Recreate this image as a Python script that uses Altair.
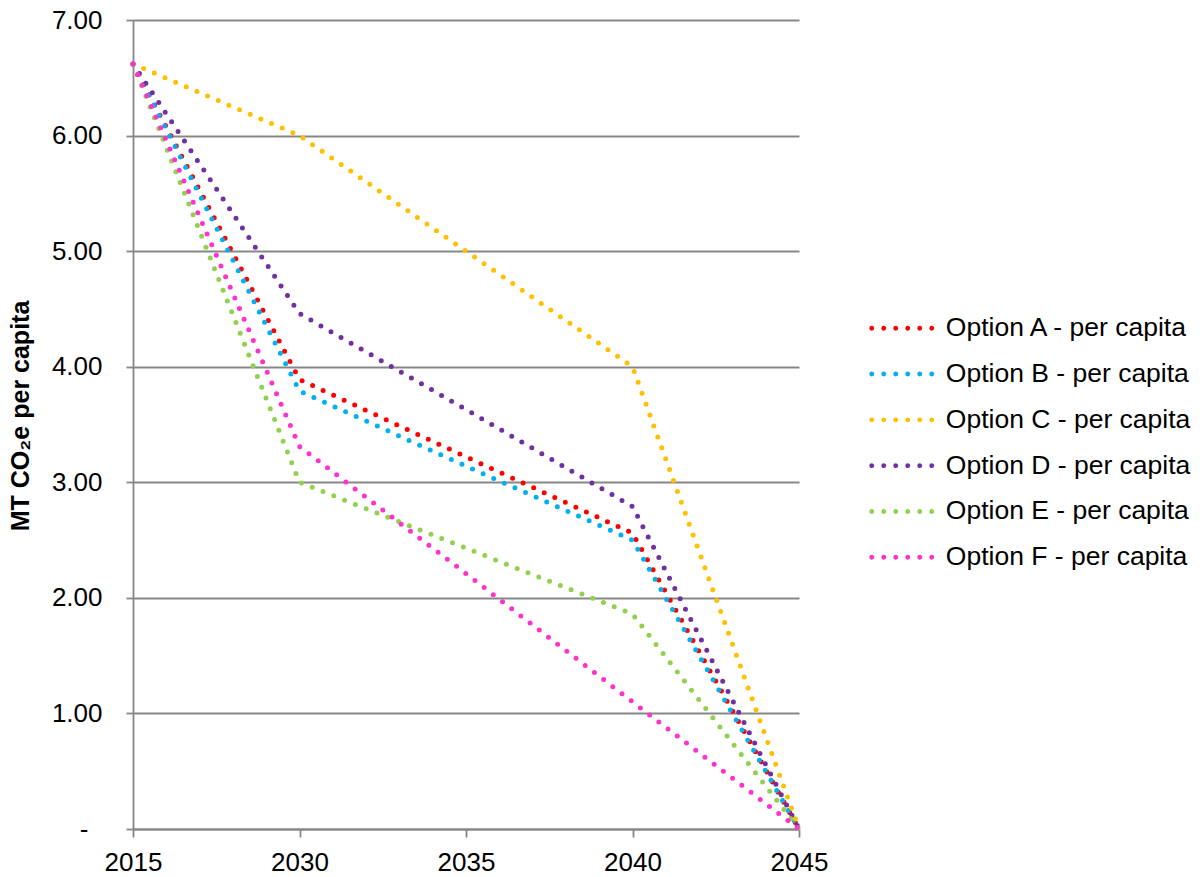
import altair as alt
import pandas as pd

# Categories on the horizontal axis
years = ["2015", "2030", "2035", "2040", "2045"]

# Series names (legend entries)
series_names = [
    "Option A - per capita",
    "Option B - per capita",
    "Option C - per capita",
    "Option D - per capita",
    "Option E - per capita",
    "Option F - per capita",
]

# Per-capita emissions for each option, one value per year
option_a = [6.62, 3.89, 3.22, 2.56, 0.0]
option_b = [6.62, 3.79, 3.14, 2.50, 0.0]
option_c = [6.62, 6.00, 5.00, 4.00, 0.0]
option_d = [6.62, 4.46, 3.63, 2.79, 0.0]
option_e = [6.62, 3.00, 2.43, 1.86, 0.0]
option_f = [6.62, 3.31, 2.21, 1.10, 0.0]

series_colors = ["#FF0000", "#00B0F0", "#FFC000", "#7030A0", "#92D050", "#FF33CC"]

y_ticks = [0, 1, 2, 3, 4, 5, 6, 7]

rows = []
for name, vals in zip(series_names, [option_a, option_b, option_c, option_d, option_e, option_f]):
    for yr, v in zip(years, vals):
        rows.append({"year": yr, "series": name, "value": v})
df = pd.DataFrame(rows)

FONT = "Liberation Sans, Arial, sans-serif"
GRID = "#878787"
DOT_W = 5
DOT_GAP = 11.6

# Legend swatch: a row of six small rings in the symbol's unit box
# (scaled by sqrt(symbolSize)/2); stroked thick they read as round dots.
ring_r = 0.16
swatch = "".join(
    f"M{cx - ring_r:.2f},0a{ring_r},{ring_r} 0 1,0 {2 * ring_r},0a{ring_r},{ring_r} 0 1,0 {-2 * ring_r},0"
    for cx in [-4.0, -2.4, -0.8, 0.8, 2.4, 4.0]
)

chart = (
    alt.Chart(df)
    .mark_line(strokeWidth=DOT_W, strokeDash=[0, DOT_GAP], strokeCap="round", strokeJoin="round")
    .encode(
        x=alt.X(
            "year:O",
            scale=alt.Scale(type="point", padding=0, domain=years),
            axis=alt.Axis(
                title=None,
                labelAngle=0,
                labelFontSize=26,
                labelFont=FONT,
                labelColor="#000000",
                labelPadding=12,
                tickSize=8,
                tickColor=GRID,
                tickWidth=1.8,
                domainColor=GRID,
                domainWidth=1.8,
                grid=False,
            ),
        ),
        y=alt.Y(
            "value:Q",
            scale=alt.Scale(domain=[0, 7], nice=False, zero=True),
            axis=alt.Axis(
                values=y_ticks,
                labelExpr="datum.value == 0 ? '-' : format(datum.value, '.2f')",
                labelFontSize=26,
                labelFont=FONT,
                labelColor="#000000",
                labelPadding={"condition": {"test": "datum.value == 0", "value": 38}, "value": 24},
                tickSize=7,
                tickColor=GRID,
                tickWidth=1.8,
                domainColor=GRID,
                domainWidth=1.8,
                grid=True,
                gridColor=GRID,
                gridWidth=1.8,
                title="MT CO₂e per capita",
                titleFont=FONT,
                titleFontSize=25,
                titleFontWeight="bold",
                titleColor="#000000",
                titleAngle=270,
                titleAlign="center",
                titleBaseline="alphabetic",
                titleX=-104.7,
                titleY=395.5,
            ),
        ),
        color=alt.Color(
            "series:N",
            scale=alt.Scale(domain=series_names, range=series_colors),
            legend=alt.Legend(
                title=None,
                orient="none",
                direction="vertical",
                legendX=755.5,
                legendY=295.0,
                padding=0,
                symbolType=swatch,
                symbolSize=225,
                symbolStrokeWidth=2.5,
                labelFont=FONT,
                labelFontSize=26.5,
                labelColor="#000000",
                labelOffset=30.8,
                labelLimit=400,
                rowPadding=18.8,
            ),
        ),
    )
    .properties(
        width=666,
        height=809,
        autosize=alt.AutoSizeParams(type="none"),
        padding={"left": 133, "top": 20, "right": 404, "bottom": 48},
        background="#ffffff",
    )
    .configure_view(strokeWidth=0)
)

chart.save("out.html", embed_options={"renderer": "svg", "actions": False})
